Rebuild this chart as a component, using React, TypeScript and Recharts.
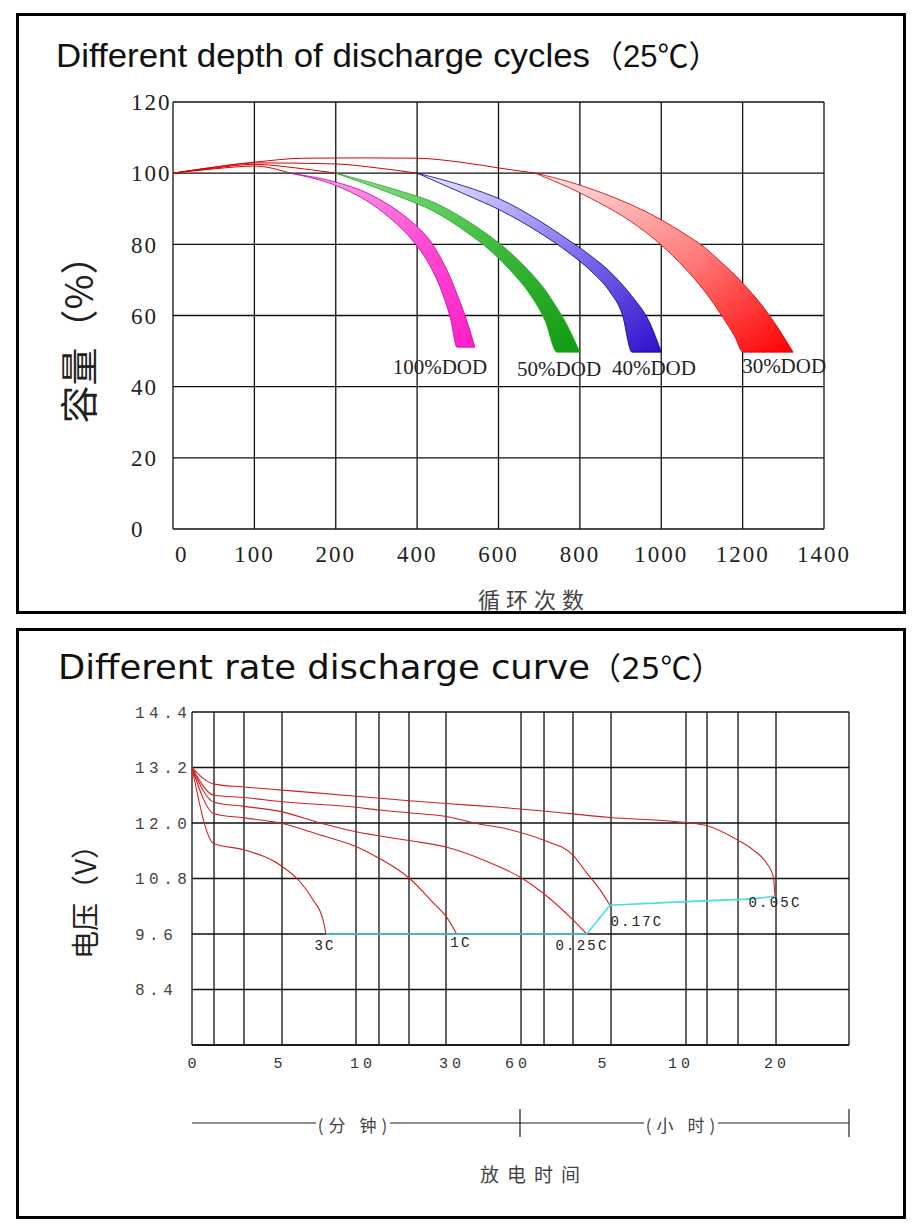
import React from "react"
import { Area, CartesianGrid, ComposedChart, Line, ReferenceDot, ReferenceLine, XAxis, YAxis } from "recharts"

const serif = '"Liberation Serif", "DejaVu Serif", serif'
const mono = '"Liberation Mono", "DejaVu Sans Mono", monospace'
const cjk = '"Noto Sans CJK SC", "Noto Sans", sans-serif'

// ---------- chart 1: cycles at different depth of discharge ----------
const cycleTicks = [0, 100, 200, 400, 600, 800, 1000, 1200, 1400]
const capacityTicks = [0, 20, 40, 60, 80, 100, 120]

// thin red lead-in lines: [cycles, capacity %]
const leadTo30 = [[0, 100], [50, 101.7], [101, 103.1], [160, 104.2], [260, 104.3], [400, 104.2], [506, 103.1], [604, 101.4], [690, 100]]
const leadTo40 = [[0, 100], [50, 101.6], [100, 102.9], [200, 102.6], [300, 101.5], [400, 100]]
const leadTo50 = [[0, 100], [50, 101.4], [100, 102.5], [150, 101.5], [200, 100]]
const leadTo100 = [[0, 100], [50, 101.2], [100, 102.0], [144, 100]]

// capacity bands: [cycles, low %, high %]
const band100 = [[144, 100, 100], [203, 96.4, 97.4], [272, 92.5, 94.7], [333, 87.4, 90.9], [390, 80.9, 86.0], [432, 73.9, 81.0], [461, 66.6, 75.5], [483, 58.7, 70.3], [498, 51.1, 66.0], [518, 51.1, 59.9], [542, 51.1, 51.1]]
const band50 = [[200, 100, 100], [358, 93.3, 95.0], [439, 89.4, 91.9], [518, 83.7, 87.0], [572, 79.0, 82.9], [628, 72.8, 77.8], [677, 66.0, 72.3], [714, 58.7, 67.3], [744, 49.7, 62.1], [763, 49.7, 58.5], [800, 49.7, 49.7]]
const band40 = [[400, 100, 100], [523, 93.8, 96.1], [604, 89.6, 92.7], [695, 83.7, 87.0], [771, 77.8, 81.3], [830, 72.2, 76.5], [874, 66.6, 72.3], [904, 60.4, 68.7], [928, 49.7, 65.4], [972, 49.7, 57.9], [1000, 49.7, 49.7]]
const band30 = [[690, 100, 100], [776, 95.8, 97.5], [849, 91.6, 94.7], [923, 86.6, 91.3], [997, 80.1, 87.1], [1058, 73.3, 82.9], [1108, 66.6, 79.0], [1149, 59.9, 74.8], [1181, 54.0, 71.4], [1201, 49.7, 69.0], [1243, 49.7, 63.5], [1287, 49.7, 56.5], [1324, 49.7, 49.7]]

const dodNames = ["100%DOD", "50%DOD", "40%DOD", "30%DOD"]
const dodLabelAt = [[456, 45.5], [749, 45.0], [982, 45.2], [1302, 45.8]]

// ---------- chart 2: discharge at different rates ----------
// time axis runs 0..100 across the plot (minutes on the left, hours on the right)
const timeGrid = [0, 3.35, 7.91, 13.7, 24.96, 28.46, 33.03, 38.66, 50.08, 53.58, 57.99, 63.78, 75.19, 78.39, 83.11, 88.89, 100]
const timeLabelAt = [0, 13.09, 25.72, 39.27, 49.32, 62.41, 74.13, 88.74]
const timeLabels = ["0", "5", "10", "30", "60", "5", "10", "20"]
const voltTicks = [8.4, 9.6, 10.8, 12.0, 13.2, 14.4]

// [time position, voltage]
const curve3C = [[0, 13.2], [3.35, 11.55], [7.91, 11.42], [13.74, 11.06], [16.44, 10.73], [18.41, 10.34], [19.93, 9.91], [20.4, 9.6]]
const curve1C = [[0, 13.2], [3.35, 12.2], [7.91, 12.11], [13.74, 11.99], [19.52, 11.74], [24.96, 11.49], [28.46, 11.24], [33.03, 10.81], [36.69, 10.28], [38.66, 9.98], [40.29, 9.6]]
const curve025C = [[0, 13.2], [3.35, 12.45], [7.91, 12.36], [13.74, 12.24], [19.52, 12.0], [24.96, 11.81], [33.03, 11.62], [38.66, 11.48], [45.36, 11.14], [50.19, 10.81], [53.47, 10.48], [57.94, 9.91], [60.07, 9.6]]
const curve017C = [[0, 13.2], [3.35, 12.6], [7.91, 12.55], [13.74, 12.46], [24.96, 12.34], [28.46, 12.28], [33.03, 12.22], [38.66, 12.14], [43.33, 11.99], [47.34, 11.89], [53.47, 11.63], [57.94, 11.31], [60.07, 10.92], [62.1, 10.56], [63.62, 10.22]]
const curve005C = [[0, 13.2], [3.35, 12.84], [7.91, 12.78], [13.74, 12.71], [24.96, 12.58], [33.03, 12.48], [38.66, 12.42], [46.88, 12.34], [53.47, 12.26], [63.62, 12.12], [75.14, 12.01], [78.43, 11.94], [83.06, 11.63], [85.39, 11.42], [87.47, 11.13], [88.48, 10.84], [88.74, 10.42]]
const endVoltage = [[20.4, 9.6], [40.29, 9.6], [60.07, 9.6], [63.62, 10.22], [75.14, 10.3], [85.39, 10.36], [88.74, 10.42]]

const rateNames = ["3C", "1C", "0.25C", "0.17C", "0.05C"]
const rateLabelAt = [[20.24, 9.33], [40.94, 9.41], [59.36, 9.35], [67.73, 9.87], [88.74, 10.28]]

// cycle labels are evenly spaced, so map cycles onto tick index
function toPos(c: number) {
  for (let i = 0; i < cycleTicks.length - 1; i++) {
    if (c <= cycleTicks[i + 1]) return i + (c - cycleTicks[i]) / (cycleTicks[i + 1] - cycleTicks[i])
  }
  return cycleTicks.length - 1
}
const linePts = (pts: number[][]) => pts.map(([c, v]) => ({ x: toPos(c), v }))
const bandPts = (pts: number[][]) => pts.map(([c, lo, hi]) => ({ x: toPos(c), range: [lo, hi] }))
const xyPts = (pts: number[][]) => pts.map(([x, v]) => ({ x, v }))

const bands = [
  { id: "b30", data: band30, stroke: "#cc0000", stops: ["#ffe8e8", "#ff7a7a", "#ff0000"] },
  { id: "b40", data: band40, stroke: "#000088", stops: ["#ececff", "#8070ee", "#3010cc"] },
  { id: "b50", data: band50, stroke: "#22aa22", stops: ["#8ee08e", "#3cb83c", "#109a10"] },
  { id: "b100", data: band100, stroke: "#c000a8", stops: ["#f2b6ea", "#ff4ed4", "#ff1ec8"] },
]
const leads = [leadTo30, leadTo40, leadTo50, leadTo100]
const rateCurves = [curve3C, curve1C, curve025C, curve017C, curve005C]

function CycleTick(props: any) {
  const { x, y, payload } = props
  const first = payload.value === 0
  return (
    <text x={first ? x + 2 : x} y={y} dy="0.72em" textAnchor={first ? "start" : "middle"}
      fontFamily={serif} fontSize={23} letterSpacing={2} fill="#222">
      {cycleTicks[payload.value]}
    </text>
  )
}

function CapacityTick(props: any) {
  const { x, y, payload } = props
  return (
    <text x={x} y={y} dy="0.36em" textAnchor="start" fontFamily={serif} fontSize={23} letterSpacing={2} fill="#222">
      {payload.value}
    </text>
  )
}

function TimeTick(props: any) {
  const { x, y, payload } = props
  return (
    <text x={x + 2} y={y} dy="0.7em" textAnchor="middle" fontFamily={mono} fontSize={15} letterSpacing={4} fill="#333">
      {timeLabels[timeLabelAt.indexOf(payload.value)]}
    </text>
  )
}

function VoltTick(props: any) {
  const { x, y, payload } = props
  return (
    <text x={x} y={y} dy="0.36em" textAnchor="start" fontFamily={mono} fontSize={16} letterSpacing={4.5} fill="#444">
      {payload.value.toFixed(1)}
    </text>
  )
}

function textMark(text: string, font: string, size: number, spacing: number) {
  return (p: any) => (
    <text x={p.cx} y={p.cy} textAnchor="middle" dominantBaseline="central"
      fontFamily={font} fontSize={size} letterSpacing={spacing} fill="#222">
      {text}
    </text>
  )
}

function CycleChart() {
  return (
    <ComposedChart width={918} height={614} margin={{ top: 102, right: 94, bottom: 55, left: 113 }}>
      <defs>
        {bands.map((b) => (
          <linearGradient key={b.id} id={b.id} x1="0" y1="0" x2="1" y2="1">
            <stop offset="0%" stopColor={b.stops[0]} />
            <stop offset="55%" stopColor={b.stops[1]} />
            <stop offset="100%" stopColor={b.stops[2]} />
          </linearGradient>
        ))}
      </defs>
      <CartesianGrid stroke="#111" strokeWidth={1.3} />
      <XAxis type="number" dataKey="x" domain={[0, cycleTicks.length - 1]} ticks={cycleTicks.map((_, i) => i)}
        interval={0} axisLine={false} tickLine={false} tickSize={0} tickMargin={16} height={30} tick={CycleTick} />
      <YAxis type="number" domain={[0, 120]} ticks={capacityTicks} interval={0} width={60}
        axisLine={false} tickLine={false} tickSize={0} tickMargin={42} tick={CapacityTick} />
      {leads.map((pts, i) => (
        <Line key={"lead" + i} data={linePts(pts)} dataKey="v" type="monotone" stroke="#dd0000"
          strokeWidth={1} dot={false} activeDot={false} isAnimationActive={false} />
      ))}
      {bands.map((b) => (
        <Area key={b.id} data={bandPts(b.data)} dataKey="range" type="monotone" stroke={b.stroke}
          strokeWidth={0.8} fill={`url(#${b.id})`} fillOpacity={1} dot={false} activeDot={false} isAnimationActive={false} />
      ))}
      {dodNames.map((name, i) => (
        <ReferenceDot key={name} x={toPos(dodLabelAt[i][0])} y={dodLabelAt[i][1]} r={0}
          shape={textMark(name, serif, 21, 0)} />
      ))}
    </ComposedChart>
  )
}

function RateChart() {
  return (
    <ComposedChart width={918} height={480} margin={{ top: 98, right: 69, bottom: 19, left: 132 }}>
      <CartesianGrid vertical={false} stroke="#111" strokeWidth={1.3} />
      {timeGrid.map((t) => (
        <ReferenceLine key={t} x={t} stroke="#111" strokeWidth={1.3} />
      ))}
      <XAxis type="number" dataKey="x" domain={[0, 100]} ticks={timeLabelAt} interval={0}
        axisLine={{ stroke: "#111", strokeWidth: 1.3 }} tickLine={false} tickSize={0} tickMargin={12}
        height={30} tick={TimeTick} />
      <YAxis type="number" domain={[7.2, 14.4]} ticks={voltTicks} interval={0} width={60}
        axisLine={false} tickLine={false} tickSize={0} tickMargin={57} tick={VoltTick} />
      {rateCurves.map((pts, i) => (
        <Line key={rateNames[i]} data={xyPts(pts)} dataKey="v" type="monotone" stroke="#d42020"
          strokeWidth={1.1} dot={false} activeDot={false} isAnimationActive={false} />
      ))}
      <Line data={xyPts(endVoltage)} dataKey="v" type="linear" stroke="#48dce4" strokeWidth={1.6}
        dot={false} activeDot={false} isAnimationActive={false} />
      {rateNames.map((name, i) => (
        <ReferenceDot key={name} x={rateLabelAt[i][0]} y={rateLabelAt[i][1]} r={0}
          shape={textMark(name, mono, 14, 2.2)} />
      ))}
    </ComposedChart>
  )
}

export default function App() {
  const panel = { position: "absolute" as const, left: 16, width: 884, border: "3px solid #000" }
  return (
    <div style={{ position: "absolute", left: 0, top: 0, width: 918, height: 1230, background: "#fff" }}>
      <div style={{ ...panel, top: 13, height: 595 }} />
      <div style={{ ...panel, top: 628, height: 585 }} />
      <svg width={918} height={1230} style={{ position: "absolute", left: 0, top: 0 }}>
        <text x={56} y={67} fontFamily='"Liberation Sans", Arial, sans-serif' fontSize={34} fill="#111"
          textLength={534} lengthAdjust="spacingAndGlyphs">Different depth of discharge cycles</text>
        <text x={592} y={67} fontFamily={cjk} fontSize={31} fill="#111">
          （<tspan fontFamily='"Liberation Sans", sans-serif'>25</tspan>℃）
        </text>
        <text x={58} y={679} fontFamily='"DejaVu Sans", sans-serif' fontSize={33} fill="#111"
          textLength={532} lengthAdjust="spacingAndGlyphs">Different rate discharge curve</text>
        <text x={590} y={679} fontFamily={cjk} fontSize={31} fill="#111">
          （<tspan fontFamily='"DejaVu Sans", sans-serif'>25</tspan>℃）
        </text>
        <text transform="translate(76,330) rotate(-90)" textAnchor="middle" dominantBaseline="central"
          fontFamily={cjk} fontSize={38} fill="#222">容量（%）</text>
        <text x={534} y={598} textAnchor="middle" dominantBaseline="central" fontFamily={cjk}
          fontSize={22} letterSpacing={6} fill="#444">循环次数</text>
        <text transform="translate(84,895) rotate(-90)" textAnchor="middle" dominantBaseline="central"
          fontFamily={cjk} fontSize={28} fill="#222">电压（V）</text>
        <g stroke="#222" strokeWidth={1.2}>
          <line x1={192} y1={1123} x2={316} y2={1123} />
          <line x1={390} y1={1123} x2={644} y2={1123} />
          <line x1={718} y1={1123} x2={849} y2={1123} />
          <line x1={520} y1={1109} x2={520} y2={1137} />
          <line x1={849} y1={1109} x2={849} y2={1137} />
        </g>
        <text x={355} y={1124} textAnchor="middle" dominantBaseline="central" fontFamily={cjk}
          fontSize={17} letterSpacing={5} fill="#444">(分 钟)</text>
        <text x={683} y={1124} textAnchor="middle" dominantBaseline="central" fontFamily={cjk}
          fontSize={17} letterSpacing={5} fill="#444">(小 时)</text>
        <text x={534} y={1173} textAnchor="middle" dominantBaseline="central" fontFamily={cjk}
          fontSize={19} letterSpacing={8} fill="#444">放电时间</text>
      </svg>
      <div style={{ position: "absolute", left: 0, top: 0 }}>
        <CycleChart />
      </div>
      <div style={{ position: "absolute", left: 0, top: 614 }}>
        <RateChart />
      </div>
    </div>
  )
}
